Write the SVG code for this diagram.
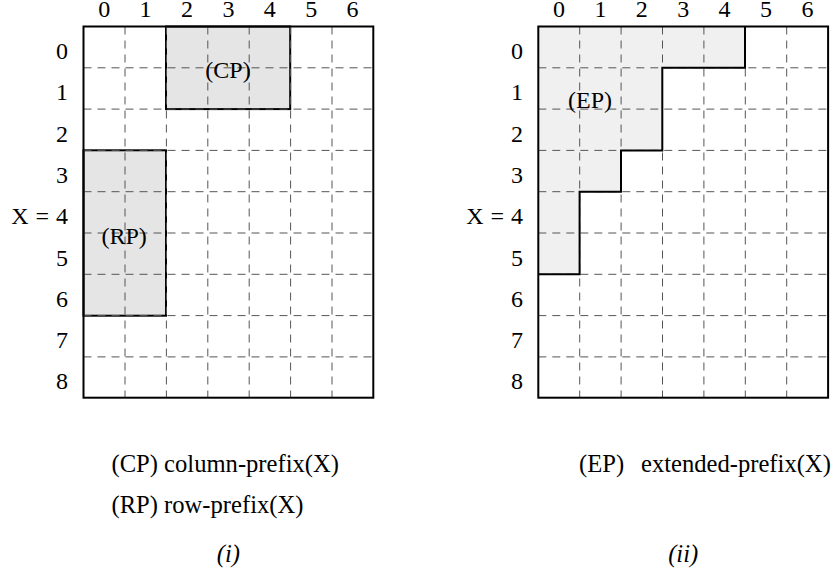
<svg xmlns="http://www.w3.org/2000/svg" width="835" height="576" viewBox="0 0 835 576">
<style>
text{font-family:'Liberation Serif','Times New Roman',serif;font-size:24px;fill:#000}
.cap{font-size:24.6px}
.c{text-anchor:middle}
.r{text-anchor:end}
.g{stroke:#555;stroke-width:1;stroke-dasharray:8 6;fill:none}
.o{fill:none;stroke:#000;stroke-width:2}
.s{stroke:#000;stroke-width:2}
.i{font-style:italic}
</style>
<rect width="835" height="576" fill="#fff"/>
<g id="panel-i">
<g id="cp"><rect class="s" x="166" y="26.5" width="124.2" height="82.6" fill="#e5e5e5"/></g>
<g id="rp"><rect class="s" x="83.5" y="150.3" width="82.5" height="165.4" fill="#e5e5e5"/></g>
<g class="g">
<path d="M125 26.5V397.7M166.4 26.5V397.7M207.8 26.5V397.7M249.2 26.5V397.7M290.6 26.5V397.7M332 26.5V397.7"/>
<path d="M83.5 67.8H373.3M83.5 109.1H373.3M83.5 150.4H373.3M83.5 191.7H373.3M83.5 233H373.3M83.5 274.3H373.3M83.5 315.6H373.3M83.5 356.9H373.3"/>
</g>
<rect class="o" x="83.5" y="26.5" width="289.8" height="371.2"/>
<g id="cp-label"><text class="c" x="228" y="77.5">(CP)</text></g>
<g id="rp-label"><text class="c" x="124.2" y="244">(RP)</text></g>
<g id="cols-i">
<text class="c" x="104.2" y="17">0</text><text class="c" x="145.6" y="17">1</text><text class="c" x="187" y="17">2</text><text class="c" x="228.4" y="17">3</text><text class="c" x="269.8" y="17">4</text><text class="c" x="311.2" y="17">5</text><text class="c" x="352.6" y="17">6</text>
</g>
<g id="rows-i">
<text class="r" x="68" y="59">0</text><text class="r" x="68" y="100.3">1</text><text class="r" x="68" y="141.6">2</text><text class="r" x="68" y="182.9">3</text><text class="r" x="68" y="224.2" word-spacing="1">X = 4</text><text class="r" x="68" y="265.5">5</text><text class="r" x="68" y="306.8">6</text><text class="r" x="68" y="348.1">7</text><text class="r" x="68" y="389.4">8</text>
</g>
<text class="cap" x="111.5" y="471.5">(CP) column-prefix(X)</text>
<text class="cap" x="111.5" y="513">(RP) row-prefix(X)</text>
<text class="c i cap" x="228.4" y="562">(i)</text>
</g>
<g id="panel-ii">
<g id="ep"><path d="M538.3 26.5H745V67.8H662.3V150.4H621V191.7H579.6V274.3H538.3Z" fill="#f0f0f0"/></g>
<g class="g">
<path d="M579.7 26.5V397.7M621.1 26.5V397.7M662.5 26.5V397.7M703.9 26.5V397.7M745.3 26.5V397.7M786.7 26.5V397.7"/>
<path d="M538.3 67.8H828.1M538.3 109.1H828.1M538.3 150.4H828.1M538.3 191.7H828.1M538.3 233H828.1M538.3 274.3H828.1M538.3 315.6H828.1M538.3 356.9H828.1"/>
</g>
<path class="s" fill="none" d="M745 26.5V67.8H662.3V150.4H621V191.7H579.6V274.3H538.3"/>
<rect class="o" x="538.3" y="26.5" width="289.8" height="371.2"/>
<g id="ep-label"><text class="c" x="590" y="107.5">(EP)</text></g>
<g id="cols-ii">
<text class="c" x="559" y="17">0</text><text class="c" x="600.4" y="17">1</text><text class="c" x="641.8" y="17">2</text><text class="c" x="683.2" y="17">3</text><text class="c" x="724.6" y="17">4</text><text class="c" x="766" y="17">5</text><text class="c" x="807.4" y="17">6</text>
</g>
<g id="rows-ii">
<text class="r" x="523" y="59">0</text><text class="r" x="523" y="100.3">1</text><text class="r" x="523" y="141.6">2</text><text class="r" x="523" y="182.9">3</text><text class="r" x="523" y="224.2" word-spacing="1">X = 4</text><text class="r" x="523" y="265.5">5</text><text class="r" x="523" y="306.8">6</text><text class="r" x="523" y="348.1">7</text><text class="r" x="523" y="389.4">8</text>
</g>
<text class="cap" y="472"><tspan x="579">(EP)</tspan><tspan x="641">extended-prefix(X)</tspan></text>
<text class="c i cap" x="683.2" y="562">(ii)</text>
</g>
</svg>
